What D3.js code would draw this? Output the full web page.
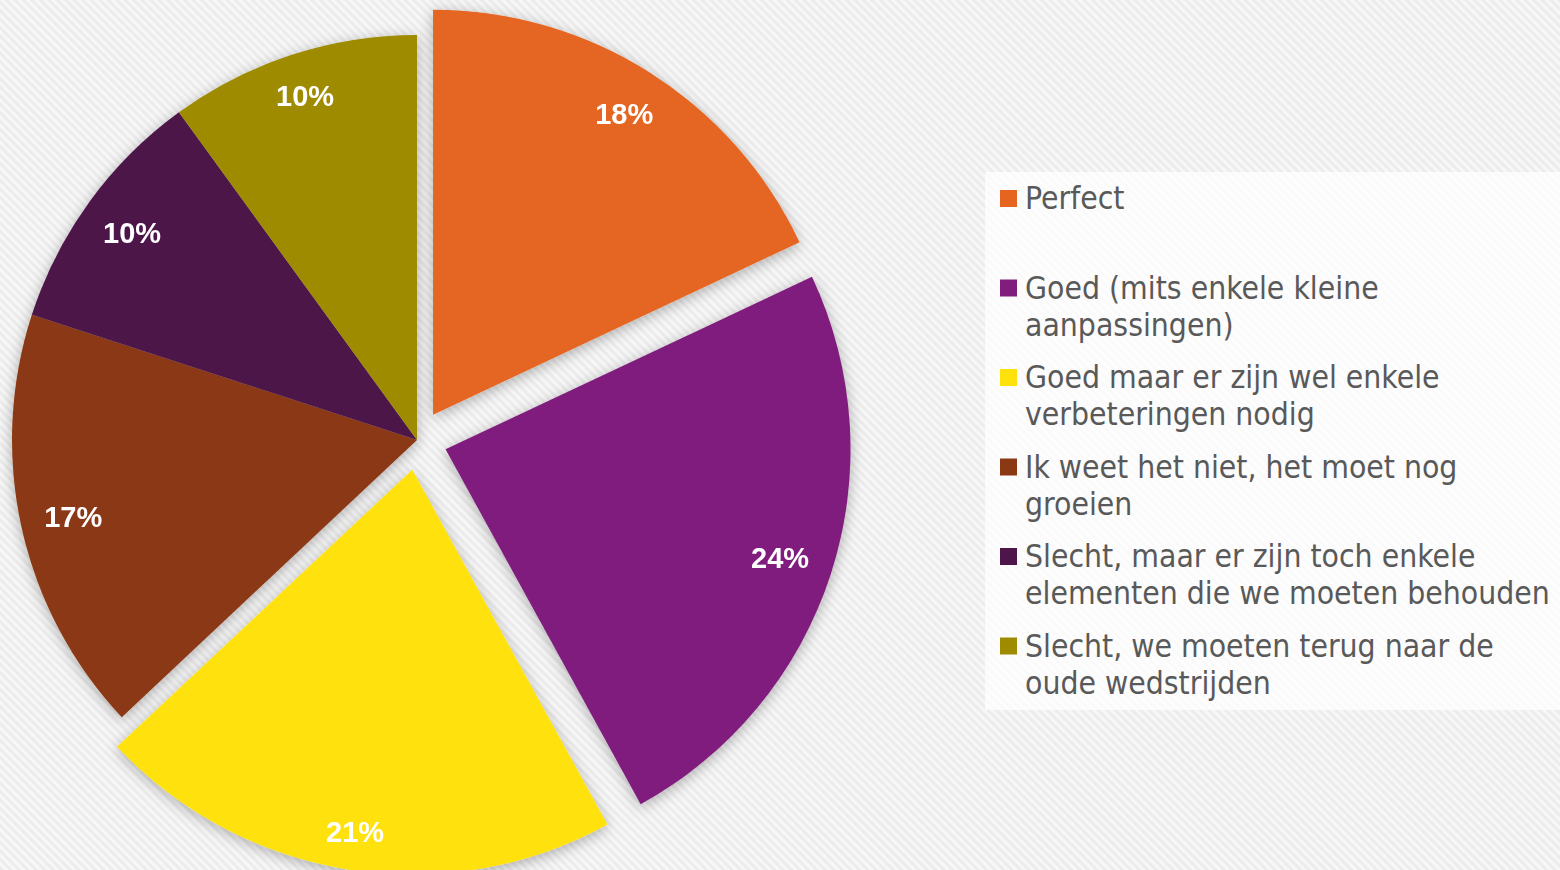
<!DOCTYPE html>
<html>
<head>
<meta charset="utf-8">
<script src="https://cdn.jsdelivr.net/npm/d3@7"></script>
<style>
  html, body { margin: 0; padding: 0; overflow: hidden; }
  #chart-area { width: 1560px; height: 870px; }
</style>
</head>
<body>
<div id="chart-area"></div>
<script>
// Data
const categories = [
  "Perfect",
  "Goed (mits enkele kleine\naanpassingen)",
  "Goed maar er zijn wel enkele\nverbeteringen nodig",
  "Ik weet het niet, het moet nog\ngroeien",
  "Slecht, maar er zijn toch enkele\nelementen die we moeten behouden",
  "Slecht, we moeten terug naar de\noude wedstrijden"
]
const values = [18, 24, 21, 17, 10, 10]
const percentLabels = ["18%", "24%", "21%", "17%", "10%", "10%"]
const exploded = [true, true, true, false, false, false]
const colors = ["#E56520", "#801E7D", "#FFE20B", "#8B3912", "#4D1549", "#9E8B00"]

const WIDTH = 1560
const HEIGHT = 870
const RADIUS = 405
const CENTER = { X: 417, Y: 440 }
const EXPLODE = 30

const svg = d3.select("#chart-area").append("svg")
  .attr("width", WIDTH)
  .attr("height", HEIGHT)

const defs = svg.append("defs")

// striped background
const pattern = defs.append("pattern")
  .attr("id", "stripes")
  .attr("width", 6)
  .attr("height", 6)
  .attr("patternUnits", "userSpaceOnUse")
  .attr("patternTransform", "rotate(45)")
pattern.append("rect")
  .attr("width", 6).attr("height", 6)
  .attr("fill", "#f7f7f7")
pattern.append("rect")
  .attr("width", 6).attr("height", 3)
  .attr("fill", "#ececec")

const shadow = defs.append("filter")
  .attr("id", "shadow")
  .attr("x", "-20%").attr("y", "-20%")
  .attr("width", "140%").attr("height", "140%")
shadow.append("feDropShadow")
  .attr("dx", 0)
  .attr("dy", 3)
  .attr("stdDeviation", 7)
  .attr("flood-color", "#000")
  .attr("flood-opacity", 0.3)

svg.append("rect")
  .attr("width", WIDTH)
  .attr("height", HEIGHT)
  .attr("fill", "url(#stripes)")

// Pie
const pie = d3.pie()
  .sort(null)
  .value(d => d)
const arc = d3.arc()
  .innerRadius(0)
  .outerRadius(RADIUS)

const arcs = pie(values)

const midAngle = d => (d.startAngle + d.endAngle) / 2

function offset(d, i) {
  if (!exploded[i]) return [0, 0]
  const mid = midAngle(d)
  return [Math.sin(mid) * EXPLODE, -Math.cos(mid) * EXPLODE]
}

const g = svg.append("g")
  .attr("transform", `translate(${CENTER.X}, ${CENTER.Y})`)

g.append("g")
  .attr("filter", "url(#shadow)")
  .selectAll("path")
  .data(arcs)
  .enter().append("path")
  .attr("transform", (d, i) => `translate(${offset(d, i)})`)
  .attr("d", arc)
  .attr("fill", (d, i) => colors[i])

// labels sit "inside end": the label box touches a circle just inside the rim
const labelEdge = RADIUS * 0.95
const labels = g.selectAll("text.pct")
  .data(arcs)
  .enter().append("text")
  .attr("class", "pct")
  .attr("dy", "0.36em")
  .attr("text-anchor", "middle")
  .attr("font-family", "'Liberation Sans', Arial, sans-serif")
  .attr("font-weight", "bold")
  .attr("font-size", "29px")
  .attr("fill", "#ffffff")
  .text((d, i) => percentLabels[i])

labels.each(function (d, i) {
  const box = this.getBBox()
  const w = box.width + 2
  const h = 28
  const mid = midAngle(d)
  const ux = Math.sin(mid)
  const uy = -Math.cos(mid)
  const r = labelEdge - (Math.abs(ux) * w / 2 + Math.abs(uy) * h / 2)
  const o = offset(d, i)
  d3.select(this)
    .attr("x", o[0] + ux * r)
    .attr("y", o[1] + uy * r)
})

// Legend
const legendBox = svg.append("g")
  .attr("transform", "translate(985, 172)")
legendBox.append("rect")
  .attr("width", 575)
  .attr("height", 538)
  .attr("fill", "#ffffff")
  .attr("opacity", 0.75)

const legend = legendBox.selectAll("g.item")
  .data(categories)
  .enter().append("g")
  .attr("class", "item")
  .attr("transform", (d, i) => `translate(15, ${37 + i * 89.5})`)

legend.append("rect")
  .attr("x", 0)
  .attr("y", -19)
  .attr("width", 17)
  .attr("height", 17)
  .attr("fill", (d, i) => colors[i])

legend.append("text")
  .attr("x", 25)
  .attr("font-family", "'DejaVu Sans Condensed', 'DejaVu Sans', sans-serif")
  .attr("font-stretch", "condensed")
  .attr("font-size", "31.6px")
  .attr("fill", "#595959")
  .selectAll("tspan")
  .data(d => d.split("\n"))
  .enter().append("tspan")
  .attr("x", 25)
  .attr("y", (d, i) => i * 37)
  .text(d => d)
</script>
</body>
</html>
